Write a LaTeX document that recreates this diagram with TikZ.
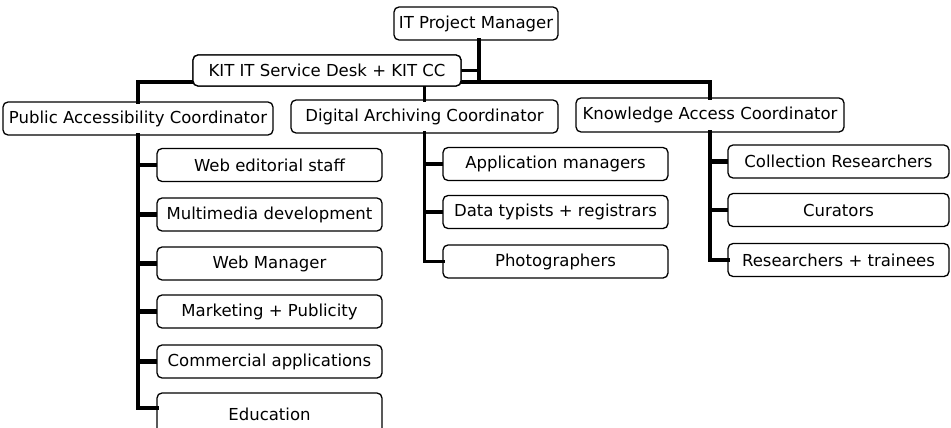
\documentclass[tikz,border=0pt]{standalone}
\usepackage{fontspec}
\setmainfont{DejaVu Sans}
\begin{document}
\begin{tikzpicture}[x=1pt,y=-1pt,
  box/.style={draw=black, line width=1.3pt, rounded corners=5pt, fill=white,
    inner sep=0pt, outer sep=0pt, minimum height=33pt,
    font=\fontsize{16.5}{19}\selectfont},
  trunk/.style={draw=black, line width=3.2pt, line cap=rect},
  stub/.style={draw=black, line width=4.5pt}]
\clip (0,0) rectangle (951,428);
\fill[white] (0,0) rectangle (951,428);

% junction of the management bus
\coordinate (hub) at (479,82);

% top level
\node[box, minimum width=164pt] (pm)  at (476,23.5)  {IT Project Manager};
\node[box, minimum width=268pt, minimum height=31pt] (kit) at (327,70.5) {KIT IT Service Desk + KIT CC};
\node[box, minimum width=270pt] (pac) at (138,118.5) {Public Accessibility Coordinator};
\node[box, minimum width=267pt] (dac) at (424.5,116.5) {Digital Archiving Coordinator};
\node[box, minimum width=268pt, minimum height=34pt] (kac) at (710,115) {Knowledge Access Coordinator};

% public accessibility team
\begin{scope}[every node/.style={box, minimum width=225pt}]
\node (p1) at (269.5,165)   {Web editorial staff};
\node (p2) at (269.5,214.5) {Multimedia development};
\node (p3) at (269.5,263.5) {Web Manager};
\node (p4) at (269.5,311.5) {Marketing + Publicity};
\node (p5) at (269.5,361.5) {Commercial applications};
\node[minimum height=42pt] (p6) at (269.5,414) {Education};
\end{scope}

% digital archiving team
\begin{scope}[every node/.style={box, minimum width=225pt}]
\node (d1) at (555.5,164)   {Application managers};
\node (d2) at (555.5,212)   {Data typists + registrars};
\node (d3) at (555.5,261.5) {Photographers};
\end{scope}

% knowledge access team
\begin{scope}[every node/.style={box, minimum width=221pt}]
\node (k1) at (838.5,161.5) {Collection Researchers};
\node (k2) at (838.5,210)   {Curators};
\node (k3) at (838.5,260)   {Researchers + trainees};
\end{scope}

% management lines
\draw[trunk] (pm.south -| hub) -- (hub);
\draw[stub, line width=3.5pt] (kit.east) -- (kit.east -| hub);
\draw[trunk] (pac.north) |- (hub) -| (kac.north);
\draw[trunk] (hub -| dac.north) -- (dac.north);

% team lines
\draw[trunk] (pac.south) |- ([yshift=6pt]p6.west);
\foreach \c in {p1,p2,p3,p4,p5} \draw[stub] (\c.west) -- (\c.west -| pac.south);
\draw[trunk] (dac.south) |- (d3.west);
\foreach \c in {d1,d2} \draw[stub] (\c.west) -- (\c.west -| dac.south);
\draw[trunk] (kac.south) |- (k3.west);
\foreach \c in {k1,k2} \draw[stub] (\c.west) -- (\c.west -| kac.south);

% the service desk box sits in front of the bus
\node[box, minimum width=268pt, minimum height=31pt] at (kit) {KIT IT Service Desk + KIT CC};
\end{tikzpicture}
\end{document}
